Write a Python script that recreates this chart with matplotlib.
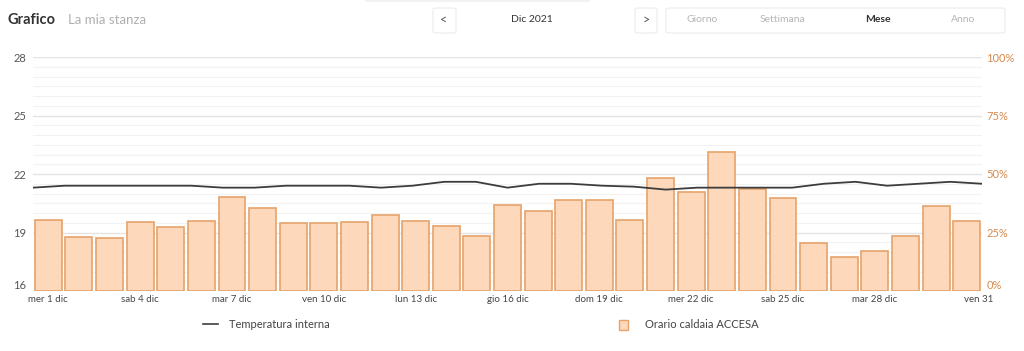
import numpy as np
import matplotlib
matplotlib.use("Agg")
import matplotlib.pyplot as plt
from matplotlib.patches import FancyBboxPatch, Rectangle
from matplotlib.lines import Line2D

plt.rcParams['font.family'] = ['Lato', 'DejaVu Sans']

# dati
giorni = list(range(1, 32))
caldaia_pct = [30.3, 23.0, 22.8, 29.4, 27.4, 30.0, 40.0, 35.4, 29.0, 29.0,
               29.3, 32.4, 29.8, 27.8, 23.3, 36.7, 34.1, 38.7, 38.8, 30.3,
               48.1, 42.4, 59.3, 43.5, 39.7, 20.5, 14.7, 17.3, 23.3, 36.3, 29.8]
temperatura = [21.3, 21.4, 21.4, 21.4, 21.4, 21.4, 21.3, 21.3, 21.4, 21.4,
               21.4, 21.3, 21.4, 21.6, 21.6, 21.3, 21.5, 21.5, 21.4, 21.35,
               21.2, 21.3, 21.3, 21.3, 21.3, 21.5, 21.6, 21.4, 21.5, 21.6, 21.5]
etichette_x = ["mer 1 dic", "sab 4 dic", "mar 7 dic", "ven 10 dic", "lun 13 dic",
               "gio 16 dic", "dom 19 dic", "mer 22 dic", "sab 25 dic", "mar 28 dic"]
tick_temp = [16, 19, 22, 25, 28]
tick_pct = [0, 25, 50, 75, 100]

BAR_FACE = '#fdd8bb'
BAR_EDGE = '#e6a26a'
ORANGE_TXT = '#d58a4e'
GRID_MAJ = '#e4e4e4'
GRID_MIN = '#f2f2f2'

W, H = 1024, 351
fig = plt.figure(figsize=(W / 100, H / 100), dpi=100)
fig.patch.set_facecolor('white')

def fx(px):
    return px / W

def fy(py):
    return 1 - py / H

ax = fig.add_axes([fx(33), fy(291), fx(982) - fx(33), fy(57) - fy(291)])
ax2 = ax.twinx()

# griglia
ax.set_ylim(16, 28)
ax.set_xlim(-0.5, 30.5)
for v in np.arange(16.5, 28, 0.5):
    if v in tick_temp:
        continue
    ax.axhline(v, color=GRID_MIN, lw=0.8, zorder=0)
for v in tick_temp[1:]:
    ax.axhline(v, color=GRID_MAJ, lw=1.0, zorder=0)

# barre (asse destro)
x = np.arange(len(giorni))
ax2.set_ylim(0, 100)
ax2.bar(x, caldaia_pct, width=0.88, color=BAR_FACE, edgecolor=BAR_EDGE,
        linewidth=1.2, zorder=2)

# linea temperatura
xl = np.linspace(-0.5, 30.5, len(temperatura))
ax_line = ax.twinx()
ax_line.set_ylim(16, 28)
ax_line.plot(xl, temperatura, color='#3d3d3d', lw=1.3, zorder=3)
ax_line.set_yticks([])
for s in ax_line.spines.values():
    s.set_visible(False)

for a in (ax, ax2):
    for s in a.spines.values():
        s.set_visible(False)
    a.tick_params(length=0)

ax.set_yticks(tick_temp)
ax.set_yticklabels([str(t) for t in tick_temp], color='#555555', fontsize=8)
ax.tick_params(axis='y', pad=5)
ax2.set_yticks(tick_pct)
ax2.set_yticklabels([f"{t}%" for t in tick_pct], color=ORANGE_TXT, fontsize=8)
ax2.tick_params(axis='y', pad=3)
# le etichette in basso stanno sopra la linea di base
ax.get_yticklabels()[0].set_verticalalignment('bottom')
ax2.get_yticklabels()[0].set_verticalalignment('bottom')

xt = list(x[::3][:len(etichette_x)]) + [30.4]
ax.set_xticks(xt)
ax.set_xticklabels(etichette_x + ["ven 31"], color='#444444', fontsize=7)
ax.tick_params(axis='x', pad=3)

# intestazione
fig.text(fx(8), fy(20), "Grafico", fontsize=10.5, color='#333333',
         fontweight='bold', va='center')
fig.text(fx(68), fy(20), "La mia stanza", fontsize=9.5, color='#b0b0b0', va='center')

def box(x0, y0, x1, y1):
    fig.patches.append(FancyBboxPatch((fx(x0), fy(y1)), fx(x1) - fx(x0), fy(y0) - fy(y1),
                                      boxstyle="round,pad=0,rounding_size=0.004",
                                      transform=fig.transFigure, facecolor='white',
                                      edgecolor='#ececec', linewidth=0.8))

fig.patches.append(Rectangle((fx(365), fy(2)), fx(590) - fx(365), fy(0) - fy(2),
                             transform=fig.transFigure, facecolor='#f2f2f2',
                             edgecolor='none'))
box(433, 8, 456, 33)
box(635, 8, 657, 33)
box(666, 8, 1005, 33)
fig.text(fx(444), fy(20), "<", fontsize=9, color='#555555', ha='center', va='center')
fig.text(fx(646), fy(20), ">", fontsize=9, color='#555555', ha='center', va='center')
fig.text(fx(532), fy(19), "Dic 2021", fontsize=7.5, color='#333333', ha='center', va='center')
for lab, px, col, wt in [("Giorno", 702, '#b5b5b5', 'normal'),
                         ("Settimana", 783, '#b5b5b5', 'normal'),
                         ("Mese", 878, '#333333', 'bold'),
                         ("Anno", 963, '#b5b5b5', 'normal')]:
    fig.text(fx(px), fy(20), lab, fontsize=7.5, color=col, fontweight=wt,
             ha='center', va='center')

# legenda
fig.lines.append(Line2D([fx(203), fx(218)], [fy(324), fy(324)], color='#3d3d3d',
                        lw=1.2, transform=fig.transFigure))
fig.text(fx(229), fy(324), "Temperatura interna", fontsize=8, color='#444444', va='center')
fig.patches.append(Rectangle((fx(619), fy(330)), fx(628) - fx(619), fy(320) - fy(330),
                             transform=fig.transFigure, facecolor=BAR_FACE,
                             edgecolor=BAR_EDGE, linewidth=1.0))
fig.text(fx(645), fy(324), "Orario caldaia ACCESA", fontsize=8, color='#444444', va='center')

fig.savefig("out.png", dpi=100, facecolor='white')
